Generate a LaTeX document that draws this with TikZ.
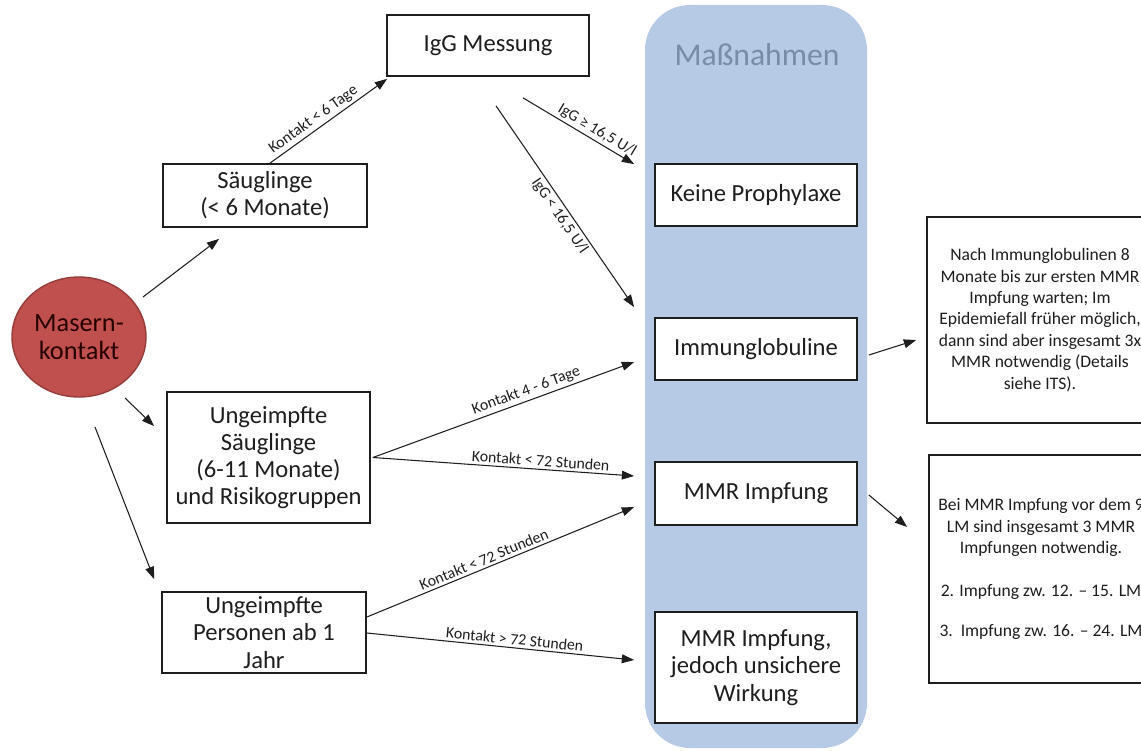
\documentclass[tikz,border=0pt]{standalone}
\usepackage{fontspec}
\setmainfont{Carlito}
\usetikzlibrary{arrows.meta,shapes.geometric,calc}
\definecolor{colblue}{RGB}{182,202,230}
\definecolor{titlecol}{RGB}{120,140,166}
\definecolor{mred}{RGB}{192,80,77}
\definecolor{mredd}{RGB}{150,60,58}
\definecolor{ink}{RGB}{30,30,30}
\newlength{\pxu}\setlength{\pxu}{0.02cm}
\begin{document}
\begin{tikzpicture}[x=0.02cm,y=-0.02cm,
  box/.style={draw=ink, line width=1pt, fill=white, inner sep=0pt, align=center, text=ink,
    font=\fontsize{14}{15.5}\selectfont},
  note/.style={draw=ink, line width=1pt, fill=white, inner sep=0pt, align=center, text=ink,
    font=\fontsize{10}{12.2}\selectfont},
  arr/.style={-{Triangle[length=7pt,width=5pt]}, line width=0.6pt, draw=ink},
  lbl/.style={font=\fontsize{9}{10}\selectfont, sloped, inner sep=1.5pt, text=ink}]
\path[use as bounding box, clip] (0,0) rectangle (1141,750);
\fill[white] (0,0) rectangle (1141,750);

% Massnahmen column
\node[fill=colblue, rounded corners=0.9cm, minimum width=222\pxu, minimum height=743\pxu, inner sep=0pt] (col) at (756,376.5) {};
\node[font=\fontsize{18}{20}\selectfont, text=titlecol] (title) at (757,55) {Maßnahmen};

% start node
\node[ellipse, fill=mred, draw=mredd, line width=0.8pt, minimum width=134\pxu, minimum height=120\pxu,
  inner sep=0pt, align=center, font=\fontsize{15}{16}\selectfont, text=black!85!red] (m) at (79,337) {Masern-\\kontakt};

% left boxes
\node[box, minimum width=202\pxu, minimum height=61\pxu] (igg) at (488,45.5) {IgG Messung};
\node[box, minimum width=204\pxu, minimum height=63\pxu] (saeug) at (265,195.5) {Säuglinge\\(< 6 Monate)};
\node[box, minimum width=203\pxu, minimum height=131\pxu] (us) at (268.5,457.5) {Ungeimpfte\\Säuglinge\\(6-11 Monate)\\und Risikogruppen};
\node[box, minimum width=204\pxu, minimum height=81\pxu] (up) at (264,632.5) {Ungeimpfte\\Personen ab 1\\Jahr};

% measure boxes
\node[box, minimum width=202\pxu, minimum height=62\pxu] (kp) at (756,195) {Keine Prophylaxe};
\node[box, minimum width=202\pxu, minimum height=62\pxu] (ig) at (756,349) {Immunglobuline};
\node[box, minimum width=202\pxu, minimum height=63\pxu] (mmr) at (756,493.5) {MMR Impfung};
\node[box, minimum width=202\pxu, minimum height=111\pxu] (mmru) at (756,667.5) {MMR Impfung,\\jedoch unsichere\\Wirkung};

% notes
\node[note, minimum width=226\pxu, minimum height=206\pxu] (r1) at (1040,320)
  {Nach Immunglobulinen 8\\Monate bis zur ersten MMR\\Impfung warten; Im\\Epidemiefall früher möglich,\\dann sind aber insgesamt 3x\\MMR notwendig (Details\\siehe ITS).};
\node[note, minimum width=224\pxu, minimum height=228\pxu] (r2) at (1041,569)
  {Bei MMR Impfung vor dem 9\\LM sind insgesamt 3 MMR\\Impfungen notwendig.\\[12pt]2. Impfung zw. 12. -- 15. LM\\[10.5pt]3.\ \ Impfung zw. 16. -- 24. LM};

% connectors
\draw[arr] ($(m.center)+(64,-40)$) -- ($(saeug.south west)+(57,11)$);
\draw[arr] ($(m.center)+(46,61)$) -- ($(us.north west)+(-12,35)$);
\draw[arr] ($(m.center)+(16,90)$) -- ($(up.north west)+(-7,-12)$);

\draw[arr] ($(saeug.north)+(5,0)$) -- node[lbl, pos=0.42, above] {Kontakt < 6 Tage} ($(igg.south west)+(1,2)$);
\draw[arr] ($(igg.south)+(35,21)$) -- node[lbl, pos=0.62, above] {IgG ≥ 16,5 U/l} ($(kp.north west)+(-20,1)$);
\draw[arr] ($(igg.south)+(8,29)$) -- node[lbl, pos=0.52, below] {IgG < 16,5 U/l} ($(ig.north west)+(-20,-10)$);

\draw[arr] ($(us.east)+(2,0)$) -- node[lbl, pos=0.6, above] {Kontakt 4 - 6 Tage} ($(ig.west)+(-20,13)$);
\draw[arr] ($(us.east)+(2,0)$) -- node[lbl, pos=0.64, above] {Kontakt < 72 Stunden} ($(mmr.west)+(-20,-17.5)$);
\draw[arr] ($(up.east)+(0,-15.5)$) -- node[lbl, pos=0.45, above] {Kontakt < 72 Stunden} ($(mmr.west)+(-20,13.5)$);
\draw[arr] ($(up.east)+(0,0.5)$) -- node[lbl, pos=0.55, above] {Kontakt > 72 Stunden} ($(mmru.west)+(-20,-7.5)$);

\draw[arr] ($(ig.east)+(11,6)$) -- ($(r1.west)+(-10,20)$);
\draw[arr] ($(mmr.east)+(11,1.5)$) -- ($(r2.west)+(-21,-42)$);
\end{tikzpicture}
\end{document}
